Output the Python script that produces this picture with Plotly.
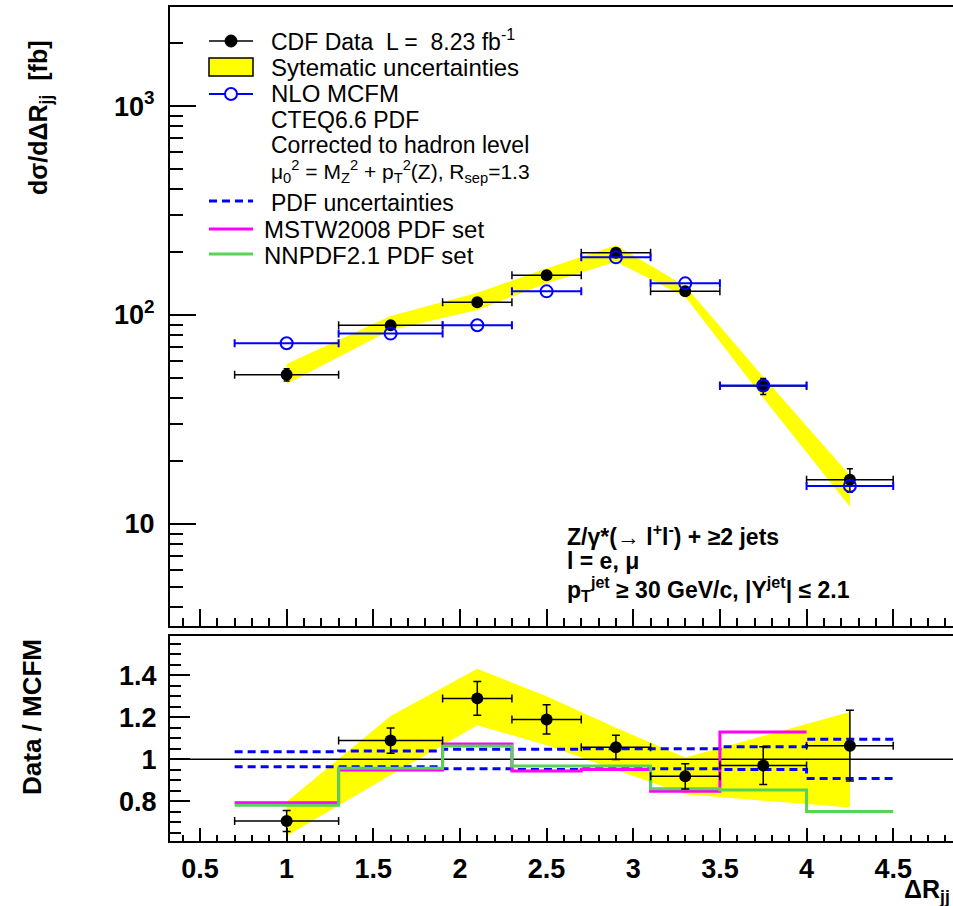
import plotly.graph_objects as go

# ---------------- data ----------------
bin_lo = [0.7, 1.3, 1.9, 2.3, 2.7, 3.1, 3.5, 4.0]
bin_hi = [1.3, 1.9, 2.3, 2.7, 3.1, 3.5, 4.0, 4.5]
x_center = [1.0, 1.6, 2.1, 2.5, 2.9, 3.3, 3.75, 4.25]

data_xs = [51.8, 89.3, 115.0, 155.0, 198.7, 129.8, 45.7, 16.3]
data_err = [3.5, 3.0, 3.5, 4.0, 4.5, 4.0, 4.0, 2.1]
mcfm_xs = [73.3, 81.5, 89.3, 129.8, 188.8, 141.8, 46.0, 15.2]
syst_lo = [46.8, 84.8, 105.6, 141.8, 180.0, 122.4, 40.1, 12.1]
syst_hi = [58.3, 98.9, 127.8, 167.0, 216.0, 137.7, 50.7, 17.1]

ratio = [0.706, 1.089, 1.290, 1.190, 1.057, 0.919, 0.970, 1.065]
ratio_err = [0.05, 0.06, 0.08, 0.07, 0.058, 0.06, 0.09, 0.168]
ratio_syst_lo = [0.635, 0.925, 1.162, 1.067, 0.950, 0.833, 0.803, 0.770]
ratio_syst_hi = [0.798, 1.206, 1.431, 1.300, 1.150, 1.008, 1.111, 1.225]
pdf_hi = [1.036, 1.040, 1.048, 1.048, 1.050, 1.050, 1.060, 1.095]
pdf_lo = [0.965, 0.965, 0.955, 0.952, 0.955, 0.955, 0.951, 0.909]
mstw_lo = [0.7, 1.3, 1.9, 2.3, 2.7, 3.1, 3.5]
mstw_hi_edge = 4.0
mstw = [0.793, 0.949, 1.073, 0.944, 0.952, 0.848, 1.130]
nnpdf = [0.781, 0.957, 1.063, 0.968, 0.968, 0.860, 0.854, 0.752]

top_ticks = [10, 100, 1000]
top_ticktext = ["10", "10<sup>2</sup>", "10<sup>3</sup>"]
top_minor = [4, 5, 6, 7, 8, 9, 20, 30, 40, 50, 60, 70, 80, 90,
             200, 300, 400, 500, 600, 700, 800, 900, 2000, 3000]
bot_ticks = [0.8, 1.0, 1.2, 1.4]
bot_ticktext = ["0.8", "1", "1.2", "1.4"]
x_ticks = [0.5, 1.0, 1.5, 2.0, 2.5, 3.0, 3.5, 4.0, 4.5]
x_ticktext = ["0.5", "1", "1.5", "2", "2.5", "3", "3.5", "4", "4.5"]

XMIN, XMAX = 0.327, 4.845

# ---------------- layout helpers ----------------
W, H = 953, 906
def PX(x):
    return x / W
def PY(y):
    return 1 - y / H

FONT = "Liberation Sans"
BLUE = "#0000ff"
MAG = "#ff00ff"
GREEN = "#55d455"
YEL = "#ffff00"

fig = go.Figure()

err_plus = [h - c for h, c in zip(bin_hi, x_center)]
err_minus = [c - l for c, l in zip(x_center, bin_lo)]

# ---- top panel ----
fig.add_trace(go.Scatter(
    x=x_center + x_center[::-1], y=syst_hi + syst_lo[::-1],
    fill="toself", fillcolor=YEL, line=dict(width=0, color=YEL),
    mode="lines", xaxis="x", yaxis="y", hoverinfo="skip"))
fig.add_trace(go.Scatter(
    x=x_center, y=data_xs, mode="markers", xaxis="x", yaxis="y",
    marker=dict(symbol="circle", size=12, color="black"),
    error_x=dict(type="data", symmetric=False, array=err_plus, arrayminus=err_minus,
                 color="black", thickness=1.5, width=4),
    error_y=dict(type="data", array=data_err, color="black", thickness=1.5, width=3)))
fig.add_trace(go.Scatter(
    x=x_center, y=mcfm_xs, mode="markers", xaxis="x", yaxis="y",
    marker=dict(symbol="circle-open", size=12, color=BLUE, line=dict(width=2, color=BLUE)),
    error_x=dict(type="data", symmetric=False, array=err_plus, arrayminus=err_minus,
                 color=BLUE, thickness=2, width=4)))

# ---- bottom panel ----
fig.add_trace(go.Scatter(
    x=x_center + x_center[::-1], y=ratio_syst_hi + ratio_syst_lo[::-1],
    fill="toself", fillcolor=YEL, line=dict(width=0, color=YEL),
    mode="lines", xaxis="x2", yaxis="y2", hoverinfo="skip"))
fig.add_trace(go.Scatter(
    x=[XMIN, XMAX], y=[1, 1], mode="lines", xaxis="x2", yaxis="y2",
    line=dict(color="black", width=1.5)))
edges = bin_lo + [bin_hi[-1]]
fig.add_trace(go.Scatter(
    x=edges, y=pdf_hi + [pdf_hi[-1]], mode="lines", line_shape="hv",
    line=dict(color=BLUE, width=3, dash="8px,5px"), xaxis="x2", yaxis="y2"))
fig.add_trace(go.Scatter(
    x=edges, y=pdf_lo + [pdf_lo[-1]], mode="lines", line_shape="hv",
    line=dict(color=BLUE, width=3, dash="8px,5px"), xaxis="x2", yaxis="y2"))
fig.add_trace(go.Scatter(
    x=mstw_lo + [mstw_hi_edge], y=mstw + [mstw[-1]], mode="lines", line_shape="hv",
    line=dict(color=MAG, width=3), xaxis="x2", yaxis="y2"))
fig.add_trace(go.Scatter(
    x=edges, y=nnpdf + [nnpdf[-1]], mode="lines", line_shape="hv",
    line=dict(color=GREEN, width=3), xaxis="x2", yaxis="y2"))
fig.add_trace(go.Scatter(
    x=x_center, y=ratio, mode="markers", xaxis="x2", yaxis="y2",
    marker=dict(symbol="circle", size=12, color="black"),
    error_x=dict(type="data", symmetric=False, array=err_plus, arrayminus=err_minus,
                 color="black", thickness=1.5, width=4),
    error_y=dict(type="data", array=ratio_err, color="black", thickness=1.5, width=4)))

tickfont = dict(family=FONT, size=27, color="black", weight="bold")
xdom = [PX(170), 1.0]

fig.update_layout(
    width=W, height=H, margin=dict(l=0, r=0, t=0, b=0),
    paper_bgcolor="white", plot_bgcolor="white", showlegend=False,
    xaxis=dict(domain=xdom, range=[XMIN, XMAX], anchor="y", showticklabels=False,
               tickvals=x_ticks, ticks="inside", ticklen=17, tickwidth=1.5, tickcolor="black",
               minor=dict(dtick=0.1, tick0=0.0, ticks="inside", ticklen=8, tickwidth=1.5, tickcolor="black"),
               showline=True, linewidth=2, linecolor="black", mirror=True,
               showgrid=False, zeroline=False),
    yaxis=dict(domain=[PY(626), PY(7)], type="log", range=[0.512, 3.474], anchor="x",
               tickvals=top_ticks, ticktext=top_ticktext, tickfont=tickfont,
               ticks="inside", ticklen=26, tickwidth=1.5, tickcolor="black", ticklabelstandoff=8,
               minor=dict(tickvals=top_minor, ticks="inside", ticklen=13, tickwidth=1.5, tickcolor="black"),
               showline=True, linewidth=2, linecolor="black", mirror=False,
               showgrid=False, zeroline=False),
    xaxis2=dict(domain=xdom, range=[XMIN, XMAX], anchor="y2",
                tickvals=x_ticks, ticktext=x_ticktext, tickfont=tickfont,
                ticks="inside", ticklen=13, tickwidth=1.5, tickcolor="black", ticklabelstandoff=3,
                minor=dict(dtick=0.1, tick0=0.0, ticks="inside", ticklen=6, tickwidth=1.5, tickcolor="black"),
                showline=True, linewidth=2, linecolor="black", mirror=True,
                showgrid=False, zeroline=False),
    yaxis2=dict(domain=[PY(841), PY(636)], range=[0.611, 1.587], anchor="x2",
                tickvals=bot_ticks, ticktext=bot_ticktext, tickfont=tickfont,
                ticks="inside", ticklen=20, tickwidth=1.5, tickcolor="black", ticklabelstandoff=6,
                minor=dict(dtick=0.05, tick0=0.0, ticks="inside", ticklen=11, tickwidth=1.5, tickcolor="black"),
                showline=True, linewidth=2, linecolor="black", mirror=False,
                showgrid=False, zeroline=False),
)

# ---------------- legend (drawn) ----------------
shapes = []
LX0, LX1, LXC = 209, 253, 231
def hline(y, color, width, dash=None):
    d = dict(type="line", xref="paper", yref="paper", x0=PX(LX0), x1=PX(LX1),
             y0=PY(y), y1=PY(y), line=dict(color=color, width=width))
    if dash:
        d["line"]["dash"] = dash
    return d
shapes.append(hline(41, "black", 1.5))
shapes.append(dict(type="circle", xref="paper", yref="paper", x0=PX(LXC - 6), x1=PX(LXC + 6),
                   y0=PY(41 + 6), y1=PY(41 - 6), fillcolor="black", line=dict(color="black", width=1)))
shapes.append(dict(type="rect", xref="paper", yref="paper", x0=PX(LX0), x1=PX(LX1),
                   y0=PY(76), y1=PY(58), fillcolor=YEL, line=dict(color="black", width=1.5)))
shapes.append(hline(94, BLUE, 2))
shapes.append(dict(type="circle", xref="paper", yref="paper", x0=PX(LXC - 6), x1=PX(LXC + 6),
                   y0=PY(94 + 6), y1=PY(94 - 6), fillcolor="white", line=dict(color=BLUE, width=2)))
shapes.append(hline(201, BLUE, 3, "8px,5px"))
shapes.append(hline(229, MAG, 3))
shapes.append(hline(254, GREEN, 3))
fig.update_layout(shapes=shapes)

ann = []
def txt(x, y, s, size=23, bold=False, anchor="left", angle=0):
    f = dict(family=FONT, size=size, color="black")
    if bold:
        f["weight"] = "bold"
    ann.append(dict(xref="paper", yref="paper", x=PX(x), y=PY(y), text=s, showarrow=False,
                    xanchor=anchor, yanchor="middle", font=f, textangle=angle))

txt(269, 40, "CDF Data  L =  8.23 fb<sup>-1</sup>")
txt(269, 67, "Sytematic uncertainties", size=24)
txt(269, 94, "NLO MCFM", size=24)
txt(269, 120, "CTEQ6.6 PDF")
txt(269, 145, "Corrected to hadron level", size=23)
txt(269, 172, "μ<sub>0</sub><sup>2</sup> = M<sub>Z</sub><sup>2</sup> + p<sub>T</sub><sup>2</sup>(Z), R<sub>sep</sub>=1.3", size=21)
txt(269, 203, "PDF uncertainties", size=23)
txt(262, 229, "MSTW2008 PDF set", size=24)
txt(262, 255, "NNPDF2.1 PDF set", size=24)

txt(565, 535, "Z/γ*(→ l<sup>+</sup>l<sup>-</sup>) + ≥2 jets", size=23, bold=True)
txt(565, 561, "l = e, μ", size=23, bold=True)
txt(565, 589, "p<sub>T</sub><sup>jet</sup> ≥ 30 GeV/c, |Y<sup>jet</sup>| ≤ 2.1", size=23, bold=True)

txt(40, 118, "dσ/dΔR<sub>jj</sub>  [fb]", size=25, bold=True, anchor="center", angle=-90)
txt(32, 717, "Data / MCFM", size=26, bold=True, anchor="center", angle=-90)
txt(952, 891, "ΔR<sub>jj</sub>", size=25, bold=True, anchor="right")

fig.update_layout(annotations=ann)

fig.write_html("out.html")
